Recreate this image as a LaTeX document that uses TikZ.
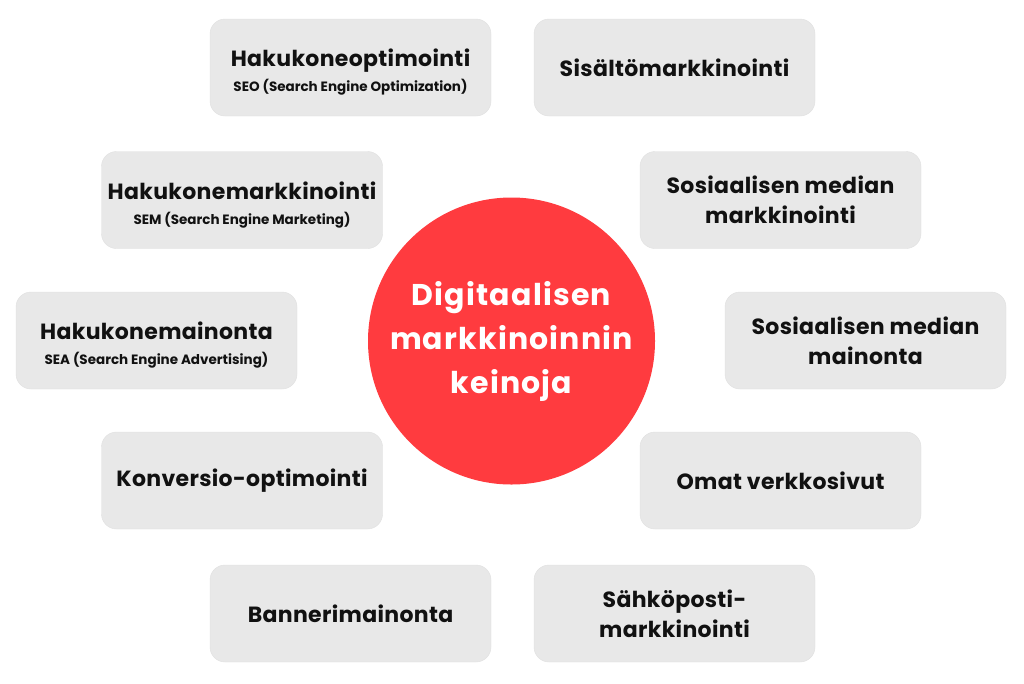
\documentclass[tikz,border=0pt]{standalone}
\usepackage{fontspec}
\setmainfont{Poppins}
\newfontfamily\titlefont{Poppins}[LetterSpace=1.5]
\newfontfamily\hubfont{Poppins}[LetterSpace=4]
\definecolor{boxgray}{HTML}{E8E8E8}
\definecolor{hubred}{HTML}{FF3B3F}
\definecolor{ink}{HTML}{111111}
\tikzset{
  item/.style={fill=boxgray, draw=black!12, line width=0.4pt, rounded corners=15pt,
    minimum width=281pt, minimum height=97pt, inner sep=0pt, align=center,
    text=ink, font=\titlefont\bfseries\fontsize{22}{30}\selectfont},
  hub/.style={circle, fill=hubred, minimum size=287pt, inner sep=0pt, align=center,
    text=white, font=\hubfont\bfseries\fontsize{30}{44}\selectfont},
}
\newcommand{\subt}[1]{\\[-5pt]{\normalfont\bfseries\fontsize{13.5}{16}\selectfont #1}}
\newcommand{\toppad}{\rule{0pt}{27pt}}
\begin{document}
\begin{tikzpicture}[x=1pt,y=-1pt]
\fill[white] (0,0) rectangle (1024,683);
\useasboundingbox (0,0) rectangle (1024,683);
\node[hub] (hub) at (511.5,341) {Digitaalisen\\markkinoinnin\\keinoja};
\node[item] (seo) at (350.5,67.5) {\toppad Hakukoneoptimointi\subt{SEO (Search Engine Optimization)}};
\node[item] (sis) at (674.5,67.5) {Sisältömarkkinointi};
\node[item] (sem) at (242,200) {\toppad Hakukonemarkkinointi\subt{SEM (Search Engine Marketing)}};
\node[item] (some) at (780.5,200) {Sosiaalisen median\\markkinointi};
\node[item] (sea) at (156.5,340.5) {\toppad Hakukonemainonta\subt{SEA (Search Engine Advertising)}};
\node[item] (somm) at (865.5,340.5) {Sosiaalisen median\\mainonta};
\node[item] (konv) at (242,480.5) {Konversio-optimointi};
\node[item] (omat) at (780.5,480.5) {Omat verkkosivut};
\node[item] (bann) at (350.5,613.5) {Bannerimainonta};
\node[item] (sahko) at (674.5,613.5) {Sähköposti-\\markkinointi};
\end{tikzpicture}
\end{document}
